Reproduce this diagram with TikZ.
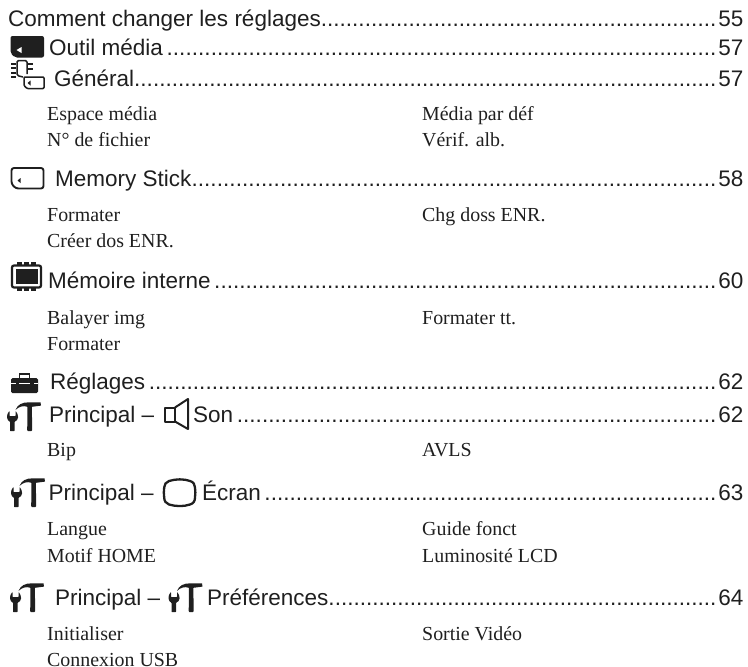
\documentclass[tikz,border=0pt]{standalone}
\usepackage{fontspec}
\setmainfont{Liberation Serif}
\newfontfamily\hd{Liberation Sans}
\newcommand{\dotrow}[3]{\hbox to \dimexpr 743pt-#1pt\relax{\hd #2\xleaders\hbox to 6.25pt{\hss.\hss}\hfill\hskip 2pt #3}}
\newcommand{\tocrow}[5]{\node[hrow] (#1) at (#2,#3) {\dotrow{#2}{#4}{#5}};}
\newcommand{\gapp}{\hskip 3.5pt}
\colorlet{ink}{black!88}
\tikzset{
 hrow/.style={anchor=base west,inner sep=0pt,text=ink,font=\fontsize{22.5}{26}\selectfont},
 item/.style={anchor=base west,inner sep=0pt,text=ink,font=\fontsize{19.9}{24}\selectfont},
 ico/.style={line width=2pt,draw=ink,fill=none,line join=round},
 tools/.pic={
  % handle
  \fill[ink,rounded corners=0.8pt] (20.5,2) -- (24.8,2) -- (25.2,29) -- (20.2,29) -- cycle;
  % hammer head
  \fill[ink] (8.5,8) .. controls (10.5,2.5) and (15,0.3) .. (22,0.3) -- (33.5,0.3) -- (34,3.6) -- (25,4.8) -- (20.5,4.8) .. controls (16,3.2) and (11.5,4.8) .. (8.5,8) -- cycle;
  % wrench
  \fill[ink,rounded corners=0.5pt] (2.5,9) .. controls (0.8,10.5) and (0,13) .. (0,15) .. controls (0,17.5) and (1.5,19) .. (3,19.7) -- (3,29) -- (7.5,29) -- (7.5,19.7) .. controls (9.5,19) and (11,17.5) .. (11,15) .. controls (11,13) and (10.2,10.5) .. (8.5,9) -- (8.5,14) -- (2.5,14) -- cycle;
 }
}
\begin{document}
\begin{tikzpicture}[x=1pt,y=-1pt]
\useasboundingbox (0,0) rectangle (748,667);
\tocrow{r1}{8}{26.7}{Comment changer les réglages}{55}
\tocrow{r2}{49}{55}{Outil média\gapp}{57}
\tocrow{r3}{54}{86}{Général}{57}
\tocrow{r4}{55}{186}{Memory Stick}{58}
\tocrow{r5}{48}{288}{Mémoire interne\gapp}{60}
\tocrow{r6}{50}{389}{Réglages\gapp}{62}
\node[hrow] (sonlabel) at (49,422) {\hd Principal –};
\tocrow{r7}{193}{422}{Son\gapp}{62}
\node[hrow] (ecrlabel) at (48.5,500.5) {\hd Principal –};
\tocrow{r8}{202}{500.5}{Écran\gapp}{63}
\node[hrow] (preflabel) at (55,605) {\hd Principal –};
\tocrow{r9}{207}{605}{Préférences}{64}
% items
\foreach \n/\x/\y/\t in {a/47/120/Espace média,b/47/146/N° de fichier,c/422/120/Média par déf,d/422/146/Vérif. alb.,
 e/47/221/Formater,f/47/247/Créer dos ENR.,g/422/221/Chg doss ENR.,
 h/47/324/Balayer img,i/47/350/Formater,j/422/324/Formater tt.,
 k/47/456/Bip,l/422/456/AVLS,
 m/47/535/Langue,n/47/562/Motif HOME,o/422/535/Guide fonct,p/422/562/Luminosité LCD,
 q/47/640/Initialiser,r/47/666/Connexion USB,s/422/640/Sortie Vidéo}
 {\node[item] (\n) at (\x,\y) {\t};}
% outil media icon
\fill[ink,rounded corners=2pt] (10.5,36) -- (44,36) -- (44,57.5) -- (15,57.5) -- (10.5,53) -- cycle;
\fill[white] (21.5,47) -- (16.5,50) -- (21.5,53) -- cycle;
% general icon
\draw[ico,line width=1.5pt,rounded corners=1.5pt] (23,77) -- (17,75.5) -- (17,60.5) -- (27,60.5) -- (27,74);
\foreach \yy in {63.5,68,72.5,76.5} {\draw[ico] (11,\yy) -- (16,\yy);}
\foreach \yy in {64,69} {\draw[ico] (28,\yy) -- (33,\yy);}
\draw[ico,line width=1.5pt,rounded corners=1pt] (24,77) -- (44,77) -- (44,88.5) -- (27,88.5) -- (24,85.5) -- cycle;
\fill[ink] (30.5,80.5) -- (27.5,83) -- (30.5,85.5) -- cycle;
% memory stick icon
\draw[ico,line width=1.9pt,rounded corners=2.5pt] (11.5,168) -- (43.5,168) -- (43.5,188.5) -- (16,188.5) -- (11.5,184) -- cycle;
\fill[ink] (20.5,178) -- (17.5,180.5) -- (20.5,183) -- cycle;
% internal memory icon
\draw[ink,line width=2.2pt,rounded corners=2pt] (12,265.5) rectangle (41,287.5);
\fill[ink] (15.5,269) rectangle (37.5,284);
\foreach \xx in {17,24,31}{\fill[ink] (\xx,262) rectangle +(4.5,3.5);\fill[ink] (\xx,287.5) rectangle +(4.5,3.5);}
% reglages (toolbox)
\fill[ink,rounded corners=1.5pt] (11,378) rectangle (38,393);
\draw[ink,line width=1.6pt] (19.5,378) -- (19.5,374) -- (29.5,374) -- (29.5,378);
\draw[white,line width=1pt] (11,383.5) -- (38,383.5);
\fill[ink] (15.5,381.5) rectangle (19,386);\fill[ink] (30,381.5) rectangle (33.5,386);
% speaker
\draw[ico] (164.5,407.5) rectangle (175,421.5);
\draw[ico] (175,407.5) -- (188,399) -- (188,429) -- (175,421.5);
% screen
\draw[ico,line width=2.3pt] (169,481) .. controls (176,478.8) and (184,478.8) .. (190,481) .. controls (193.5,482) and (195,484.5) .. (195,487.5) .. controls (195.5,491) and (195.5,494) .. (195,497.5) .. controls (195,501) and (193.5,503.5) .. (190,504.5) .. controls (184,506.6) and (176,506.6) .. (169,504.5) .. controls (166,503.5) and (164.2,501) .. (164.2,497.5) .. controls (163.7,494) and (163.7,491) .. (164.2,487.5) .. controls (164.2,484.5) and (166,482) .. (169,481) -- cycle;
% tools
\pic at (7,402) {tools};
\pic at (11,478) {tools};
\pic at (10,583) {tools};
\pic at (168.5,583) {tools};
\end{tikzpicture}
\end{document}
